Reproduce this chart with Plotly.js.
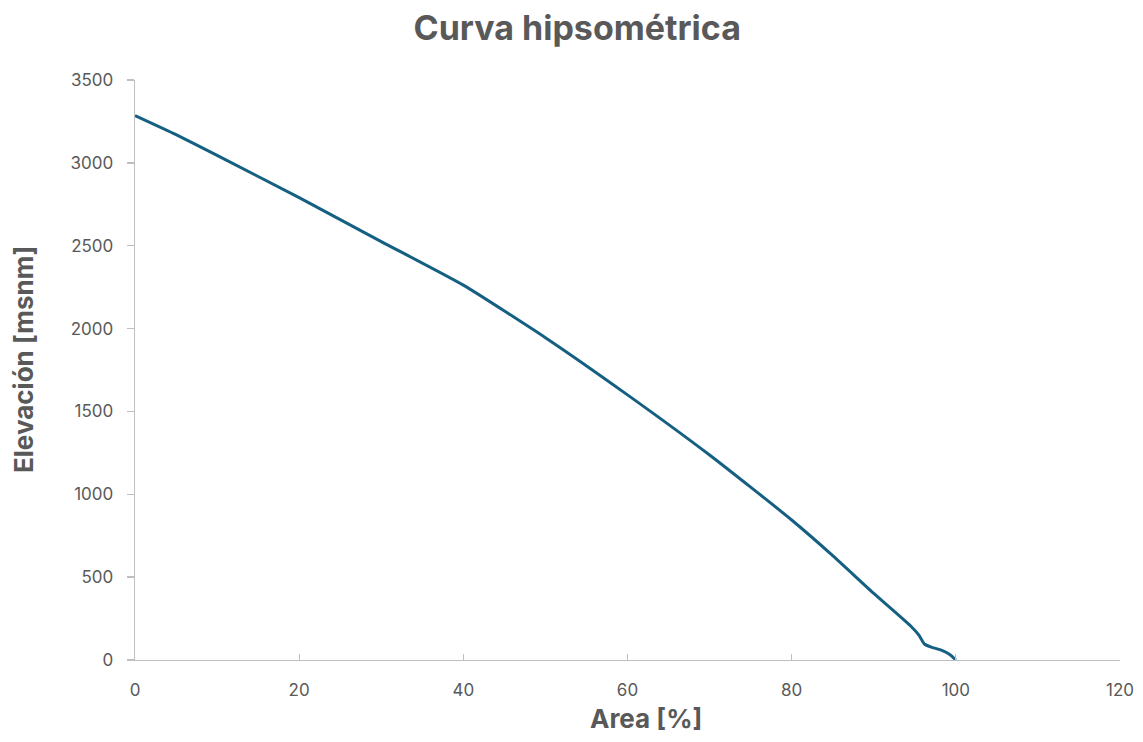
<!DOCTYPE html>
<html>
<head>
<meta charset="utf-8">
<script src="https://cdn.plot.ly/plotly-3.0.1.min.js"></script>
<style>html,body{margin:0;padding:0;background:#fff;}#chart{width:1143px;height:742px;}</style>
</head>
<body>
<div id="chart"></div>
<script>
const areaPct = [0, 5, 10, 20, 30, 40, 50, 60, 70, 80, 85, 90, 94.5, 95.5, 96.2, 97, 98.3, 99.3, 100];
const elevation = [3285, 3170, 3045, 2790, 2525, 2262, 1945, 1600, 1237, 845, 630, 402, 205, 150, 95, 78, 58, 32, 0];
const xTicks = [0, 20, 40, 60, 80, 100, 120];
const yTicks = [0, 500, 1000, 1500, 2000, 2500, 3000, 3500];
const titleText = 'Curva hipsométrica';
const xTitle = 'Area [%]';
const yTitle = 'Elevación [msnm]';

const gray = '#595959';
const axisCol = '#bfbfbf';
const fontFam = 'Inter, "Liberation Sans", Arial, sans-serif';

Plotly.newPlot('chart', [{
  x: areaPct,
  y: elevation,
  type: 'scatter',
  mode: 'lines',
  line: {color: '#156082', width: 3, shape: 'spline', smoothing: 0.5},
  hoverinfo: 'x+y'
}], {
  width: 1143, height: 742,
  margin: {l: 135, r: 23, t: 80, b: 82},
  paper_bgcolor: '#fff', plot_bgcolor: '#fff',
  showlegend: false,
  font: {family: fontFam, color: gray, size: 17},
  title: {text: '<b>' + titleText + '</b>', x: 0.505, xanchor: 'center', y: 0.962, yanchor: 'middle',
          font: {family: fontFam, size: 34, color: gray}},
  xaxis: {
    range: [0, 120], tickvals: xTicks, ticktext: xTicks.map(String),
    showgrid: false, zeroline: false, showline: true, linecolor: axisCol, linewidth: 1.3,
    ticks: 'inside', ticklen: 6, tickcolor: axisCol, tickwidth: 1.3,
    tickfont: {size: 17, color: gray}, ticklabelstandoff: 14
  },
  yaxis: {
    range: [0, 3500], tickvals: yTicks, ticktext: yTicks.map(String),
    showgrid: false, zeroline: false, showline: true, linecolor: axisCol, linewidth: 1.3,
    ticks: 'outside', ticklen: 7, tickcolor: axisCol, tickwidth: 1.3,
    tickfont: {size: 17, color: gray}, ticklabelstandoff: 10
  },
  annotations: [
    {text: '<b>' + xTitle + '</b>', xref: 'paper', yref: 'paper', x: 0.519, y: -0.1,
     xanchor: 'center', yanchor: 'middle', showarrow: false, font: {size: 26, color: gray}},
    {text: '<b>' + yTitle + '</b>', xref: 'paper', yref: 'paper', x: -0.1127, y: 0.519,
     xanchor: 'center', yanchor: 'middle', textangle: -90, showarrow: false, font: {size: 26, color: gray}}
  ]
}, {displayModeBar: false, staticPlot: true});
</script>
</body>
</html>
